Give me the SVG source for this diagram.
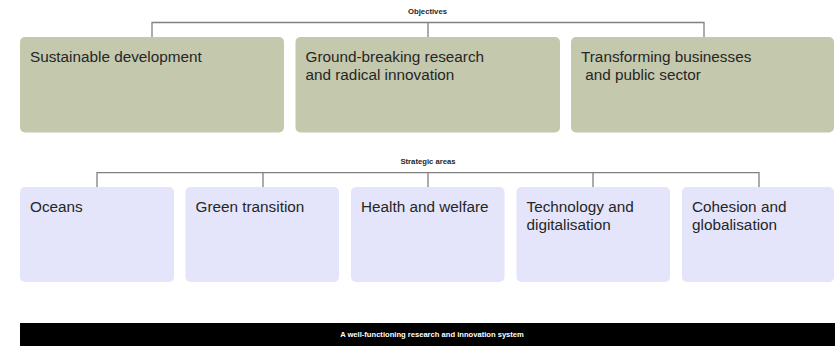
<svg xmlns="http://www.w3.org/2000/svg" width="835" height="346" viewBox="0 0 835 346">
<style>
.obj{fill:#c4c8ad}
.area{fill:#e4e4fa}
.t{font-family:"Liberation Sans",Arial,sans-serif;font-size:15.3px;fill:#262626}
.h{font-family:"Liberation Sans",Arial,sans-serif;font-size:7.7px;font-weight:bold;fill:#262626;text-anchor:middle}
.c{fill:none;stroke:#808080;stroke-width:1.3}
</style>
<rect width="835" height="346" fill="#fff"/>
<g id="labels">
<text class="h" x="427.5" y="14">Objectives</text>
<text class="h" x="428" y="164">Strategic areas</text>
</g>
<g id="connectors">
<path class="c" d="M152 37V22.5H704V37M428 22.5V37"/>
<path class="c" d="M97 187V172.7H759V187M263 172.7V187M428 172.7V187M593 172.7V187"/>
</g>
<g id="obj1"><rect class="obj" x="20" y="37" width="264" height="95.5" rx="5"/><text class="t" x="30" y="62">Sustainable development</text></g>
<g id="obj2"><rect class="obj" x="295.5" y="37" width="264.5" height="95.5" rx="5"/><text class="t" x="305.5" y="62">Ground-breaking research<tspan x="305.5" y="80">and radical innovation</tspan></text></g>
<g id="obj3"><rect class="obj" x="571" y="37" width="263" height="95.5" rx="5"/><text class="t" x="581" y="62" xml:space="preserve">Transforming businesses<tspan x="581" y="80"> and public sector</tspan></text></g>
<g id="area1"><rect class="area" x="20" y="187" width="154" height="95" rx="5"/><text class="t" x="30" y="212">Oceans</text></g>
<g id="area2"><rect class="area" x="185.5" y="187" width="153.5" height="95" rx="5"/><text class="t" x="195.5" y="212">Green transition</text></g>
<g id="area3"><rect class="area" x="351" y="187" width="153.5" height="95" rx="5"/><text class="t" x="361" y="212">Health and welfare</text></g>
<g id="area4"><rect class="area" x="516.5" y="187" width="153.5" height="95" rx="5"/><text class="t" x="526.5" y="212">Technology and<tspan x="526.5" y="230">digitalisation</tspan></text></g>
<g id="area5"><rect class="area" x="682" y="187" width="152" height="95" rx="5"/><text class="t" x="692" y="212">Cohesion and<tspan x="692" y="230">globalisation</tspan></text></g>
<g id="system"><rect x="20" y="323" width="815" height="23" fill="#000"/><text x="432" y="337" font-family="'Liberation Sans',Arial,sans-serif" font-size="7.6" font-weight="bold" fill="#fff" text-anchor="middle">A well-functioning research and innovation system</text></g>
</svg>
